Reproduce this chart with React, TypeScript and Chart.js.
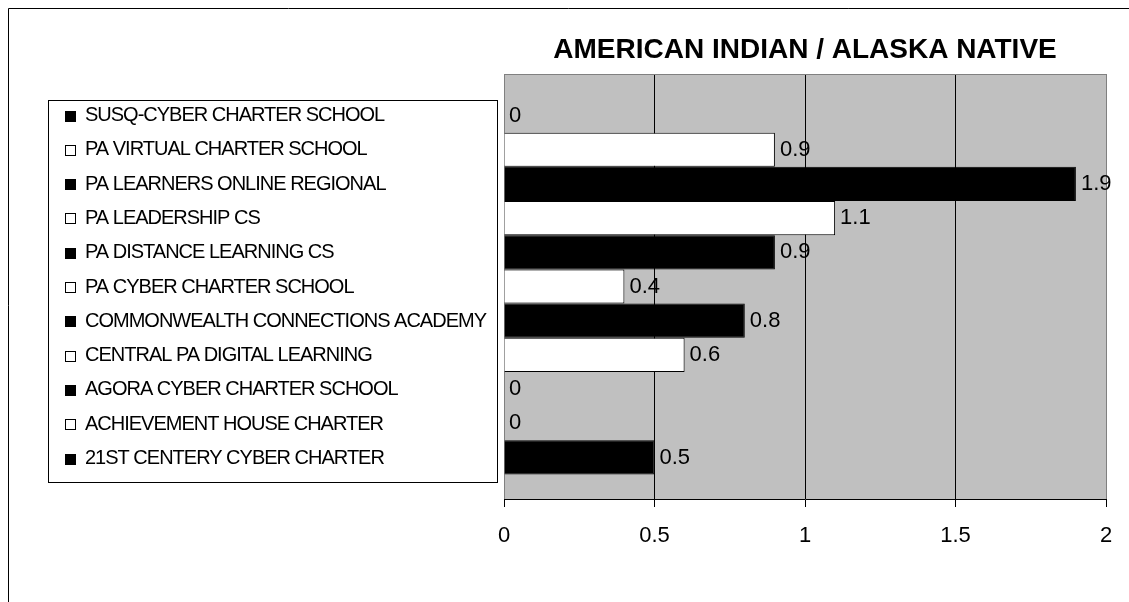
import React, { useEffect, useRef } from "react";
import { Chart, registerables } from "chart.js";

Chart.register(...registerables);

const chartTitle = "AMERICAN INDIAN / ALASKA NATIVE";
const schools = [
  "SUSQ-CYBER CHARTER SCHOOL",
  "PA VIRTUAL CHARTER SCHOOL",
  "PA LEARNERS ONLINE REGIONAL",
  "PA LEADERSHIP CS",
  "PA DISTANCE LEARNING CS",
  "PA CYBER CHARTER SCHOOL",
  "COMMONWEALTH CONNECTIONS ACADEMY",
  "CENTRAL PA DIGITAL LEARNING",
  "AGORA CYBER CHARTER SCHOOL",
  "ACHIEVEMENT HOUSE CHARTER",
  "21ST CENTERY CYBER CHARTER",
];
const values = [0, 0.9, 1.9, 1.1, 0.9, 0.4, 0.8, 0.6, 0, 0, 0.5];
const fills = [
  "#000000", "#FFFFFF", "#000000", "#FFFFFF", "#000000", "#FFFFFF",
  "#000000", "#FFFFFF", "#000000", "#FFFFFF", "#000000",
];
const xMin = 0;
const xMax = 2;
const xStep = 0.5;

const FONT = "'Liberation Sans', Arial, sans-serif";

const decorPlugin = {
  id: "decor",
  beforeDraw(chart: any) {
    const { ctx, chartArea: a } = chart;
    ctx.save();
    ctx.fillStyle = "#C0C0C0";
    ctx.fillRect(a.left, a.top, a.right - a.left, a.bottom - a.top);
    ctx.restore();
  },
  afterDatasetsDraw(chart: any) {
    const { ctx, chartArea: a } = chart;
    ctx.save();
    ctx.strokeStyle = "#808080";
    ctx.lineWidth = 1;
    ctx.beginPath();
    ctx.moveTo(a.left, Math.round(a.top) + 0.5);
    ctx.lineTo(a.right, Math.round(a.top) + 0.5);
    ctx.stroke();
    ctx.fillStyle = "#000";
    ctx.font = `22px ${FONT}`;
    ctx.textAlign = "left";
    ctx.textBaseline = "middle";
    chart.data.datasets.forEach((ds: any, i: number) => {
      const meta = chart.getDatasetMeta(i);
      const el = meta.data[0];
      if (!el) return;
      ctx.fillText(String(ds.data[0]), el.x + 5, el.y);
    });
    ctx.restore();
  },
  afterDraw(chart: any) {
    const { ctx, chartArea: a } = chart;
    ctx.save();
    ctx.strokeStyle = "#000";
    ctx.lineWidth = 1;
    ctx.beginPath();
    ctx.moveTo(8.5, 602);
    ctx.lineTo(8.5, 8.5);
    ctx.lineTo(1129, 8.5);
    ctx.stroke();
    ctx.fillStyle = "#000";
    ctx.font = `bold 28px ${FONT}`;
    ctx.textAlign = "center";
    ctx.textBaseline = "middle";
    ctx.fillText(chartTitle, (a.left + a.right) / 2, 50);
    const lx = 48, ly = 100, lw = 449, lh = 382;
    ctx.fillStyle = "#FFF";
    ctx.fillRect(lx, ly, lw, lh);
    ctx.strokeStyle = "#000";
    ctx.strokeRect(lx + 0.5, ly + 0.5, lw, lh);
    ctx.font = `20px ${FONT}`;
    (ctx as any).letterSpacing = "-1px";
    ctx.textAlign = "left";
    ctx.textBaseline = "middle";
    chart.data.datasets.forEach((ds: any, i: number) => {
      const cy = 115.5 + i * 34.3;
      const top = Math.round(cy - 5);
      ctx.fillStyle = ds.backgroundColor;
      ctx.fillRect(65, top, 11, 11);
      ctx.strokeStyle = "#000";
      ctx.strokeRect(65.5, top + 0.5, 10, 10);
      ctx.fillStyle = "#000";
      ctx.fillText(ds.label, 85, cy);
    });
    ctx.restore();
  },
};

export default function App() {
  const ref = useRef<HTMLCanvasElement>(null);
  useEffect(() => {
    if (!ref.current) return;
    const chart = new Chart(ref.current, {
      type: "bar",
      data: {
        labels: [""],
        datasets: schools.map((s, i) => ({
          label: s,
          data: [values[i]],
          backgroundColor: fills[i],
          borderColor: "#000",
          borderWidth: values[i] === 0 ? 0 : 1,
          categoryPercentage: 0.885,
          barPercentage: 1,
        })),
      },
      options: {
        indexAxis: "y",
        animation: false,
        responsive: false,
        layout: { padding: { left: 504, right: 23, top: 74, bottom: 0 } },
        plugins: { legend: { display: false }, title: { display: false }, tooltip: { enabled: false } },
        scales: {
          x: {
            min: xMin,
            max: xMax,
            ticks: {
              stepSize: xStep,
              color: "#000",
              font: { size: 22, family: FONT },
              padding: 16,
              callback: (v: any) => String(Number(v)),
            },
            grid: {
              color: (c: any) => (c.tick && (c.tick.value === xMin || c.tick.value === xMax) ? "#808080" : "#000"),
              tickColor: "#000",
              tickLength: 8,
              lineWidth: 1,
            },
            border: { display: true, color: "#000" },
            afterFit: (axis: any) => {
              axis.height = 103;
              axis.paddingRight = 0;
              axis.paddingLeft = 0;
            },
          },
          y: { display: false },
        },
      },
      plugins: [decorPlugin],
    } as any);
    return () => chart.destroy();
  }, []);
  return (
    <div style={{ position: "fixed", left: 0, top: 0, width: 1129, height: 602, background: "#fff" }}>
      <canvas ref={ref} width={1129} height={602} style={{ display: "block" }} />
    </div>
  );
}
